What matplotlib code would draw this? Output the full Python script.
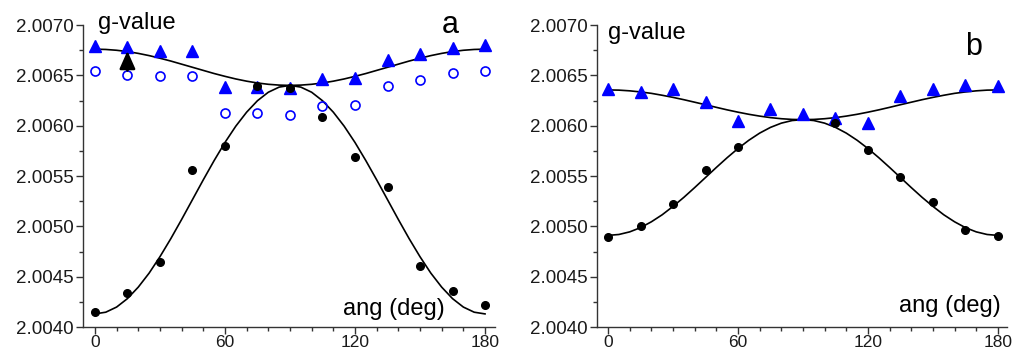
import numpy as np
import matplotlib
matplotlib.use("Agg")
import matplotlib.pyplot as plt
from matplotlib.ticker import MultipleLocator, FormatStrFormatter

plt.rcParams['font.family'] = ['Liberation Sans', 'DejaVu Sans']

# measured points (every 15 deg)
ang = [0, 15, 30, 45, 60, 75, 90, 105, 120, 135, 150, 165, 180]

a_tri = [2.00679, 2.00678, 2.00674, 2.00674, 2.00638, 2.00638, 2.00637,
         2.00646, 2.00647, 2.00665, 2.00671, 2.00677, 2.00680]
a_open = [2.00654, 2.00650, 2.00649, 2.00649, 2.00613, 2.00613, 2.00611,
          2.00620, 2.00621, 2.00639, 2.00645, 2.00652, 2.00654]
a_dot = [2.00415, 2.00434, 2.00465, 2.00556, 2.00580, 2.00639, 2.00637,
         2.00609, 2.00569, 2.00539, 2.00461, 2.00436, 2.00422]

b_tri = [2.00636, 2.00633, 2.00636, 2.00624, 2.00605, 2.00617, 2.00612,
         2.00608, 2.00603, 2.00629, 2.00636, 2.00640, 2.00639]
b_dot = [2.00489, 2.00500, 2.00522, 2.00556, 2.00579, np.nan, np.nan,
         2.00603, 2.00576, 2.00549, 2.00524, 2.00496, 2.00490]

# fitted curves, read every 5 deg
ang_fit = list(range(0, 181, 5))

a_tri_fit = [2.006760, 2.006757, 2.006749, 2.006736, 2.006718, 2.006696, 2.006670,
             2.006642, 2.006611, 2.006580, 2.006549, 2.006518, 2.006490, 2.006464,
             2.006442, 2.006424, 2.006411, 2.006403, 2.006400, 2.006403, 2.006411,
             2.006424, 2.006442, 2.006464, 2.006490, 2.006518, 2.006549, 2.006580,
             2.006611, 2.006642, 2.006670, 2.006696, 2.006718, 2.006736, 2.006749,
             2.006757, 2.006760]
a_dot_fit = [2.004130, 2.004147, 2.004198, 2.004282, 2.004396, 2.004535, 2.004698,
             2.004877, 2.005068, 2.005265, 2.005462, 2.005653, 2.005833, 2.005995,
             2.006134, 2.006248, 2.006332, 2.006383, 2.006400, 2.006383, 2.006332,
             2.006248, 2.006134, 2.005995, 2.005833, 2.005653, 2.005462, 2.005265,
             2.005068, 2.004877, 2.004698, 2.004535, 2.004396, 2.004282, 2.004198,
             2.004147, 2.004130]
b_tri_fit = [2.006355, 2.006353, 2.006346, 2.006335, 2.006321, 2.006302, 2.006281,
             2.006258, 2.006233, 2.006208, 2.006182, 2.006157, 2.006134, 2.006113,
             2.006095, 2.006080, 2.006069, 2.006062, 2.006060, 2.006062, 2.006069,
             2.006080, 2.006095, 2.006113, 2.006134, 2.006157, 2.006182, 2.006208,
             2.006233, 2.006258, 2.006281, 2.006302, 2.006321, 2.006335, 2.006346,
             2.006353, 2.006355]
b_dot_fit = [2.004910, 2.004919, 2.004945, 2.004987, 2.005045, 2.005115, 2.005198,
             2.005288, 2.005385, 2.005485, 2.005585, 2.005682, 2.005773, 2.005855,
             2.005926, 2.005983, 2.006025, 2.006051, 2.006060, 2.006051, 2.006025,
             2.005983, 2.005926, 2.005855, 2.005773, 2.005682, 2.005585, 2.005485,
             2.005385, 2.005288, 2.005198, 2.005115, 2.005045, 2.004987, 2.004945,
             2.004919, 2.004910]

# arrow in panel a: (angle, start, end)
arrow_a = (15, 2.00652, 2.00677)

blue = '#0000ff'
axcol = '#333333'


def style_axis(ax, xlim):
    ax.set_xlim(*xlim)
    ax.set_ylim(2.0040, 2.0070)
    ax.spines['top'].set_visible(False)
    ax.spines['right'].set_visible(False)
    for s in ('left', 'bottom'):
        ax.spines[s].set_color(axcol)
        ax.spines[s].set_linewidth(1.0)
    ax.xaxis.set_major_locator(MultipleLocator(60))
    ax.xaxis.set_minor_locator(MultipleLocator(10))
    ax.yaxis.set_major_locator(MultipleLocator(0.0005))
    ax.yaxis.set_minor_locator(MultipleLocator(0.00025))
    ax.yaxis.set_major_formatter(FormatStrFormatter('%.4f'))
    ax.tick_params(which='major', length=5, width=1.0, color=axcol,
                   labelcolor='#1a1a1a')
    ax.tick_params(which='minor', length=3, width=1.0, color=axcol)
    ax.tick_params(axis='y', pad=2, labelsize=13.5)
    ax.tick_params(axis='x', pad=0.5, labelsize=12.5)


fig = plt.figure(figsize=(10.14, 3.53), dpi=100)
ax_a = fig.add_axes([83/1014, 26/353, 412/1014, 302/353])
ax_b = fig.add_axes([597/1014, 26/353, 410/1014, 302/353])

# panel a
style_axis(ax_a, (-5.5, 184.6))
ax_a.plot(ang_fit, a_tri_fit, color='k', lw=1.2, zorder=2)
ax_a.plot(ang_fit, a_dot_fit, color='k', lw=1.2, zorder=2)
ax_a.plot(ang, a_open, 'o', mfc='none', mec=blue, mew=1.2, ms=6.5, zorder=3)
ax_a.plot(ang, a_tri, '^', color=blue, ms=8, zorder=3)
ax_a.plot(ang, a_dot, 'o', color='k', ms=5.5, zorder=4)
ax_a.annotate('', xy=(arrow_a[0], arrow_a[2]), xytext=(arrow_a[0], arrow_a[1]),
              arrowprops=dict(arrowstyle='-|>,head_length=0.9,head_width=0.4',
                              color='k', lw=1.8, mutation_scale=12),
              zorder=5)
ax_a.text(0.036, 0.986, 'g-value', transform=ax_a.transAxes, fontsize=17,
          ha='left', va='baseline')
ax_a.text(0.892, 0.9725, 'a', transform=ax_a.transAxes, fontsize=22,
          ha='center', va='baseline')
ax_a.text(0.879, 0.040, 'ang (deg)', transform=ax_a.transAxes, fontsize=17,
          ha='right', va='baseline')

# panel b
style_axis(ax_b, (-5.1, 184.2))
ax_b.plot(ang_fit, b_tri_fit, color='k', lw=1.2, zorder=2)
ax_b.plot(ang_fit, b_dot_fit, color='k', lw=1.2, zorder=2)
ax_b.plot(ang, b_tri, '^', color=blue, ms=8, zorder=3)
ax_b.plot(ang, b_dot, 'o', color='k', ms=5.5, zorder=4)
ax_b.text(0.027, 0.953, 'g-value', transform=ax_b.transAxes, fontsize=17,
          ha='left', va='baseline')
ax_b.text(0.918, 0.90, 'b', transform=ax_b.transAxes, fontsize=22,
          ha='center', va='baseline')
ax_b.text(0.985, 0.051, 'ang (deg)', transform=ax_b.transAxes, fontsize=17,
          ha='right', va='baseline')

fig.savefig('out.png', dpi=100)
